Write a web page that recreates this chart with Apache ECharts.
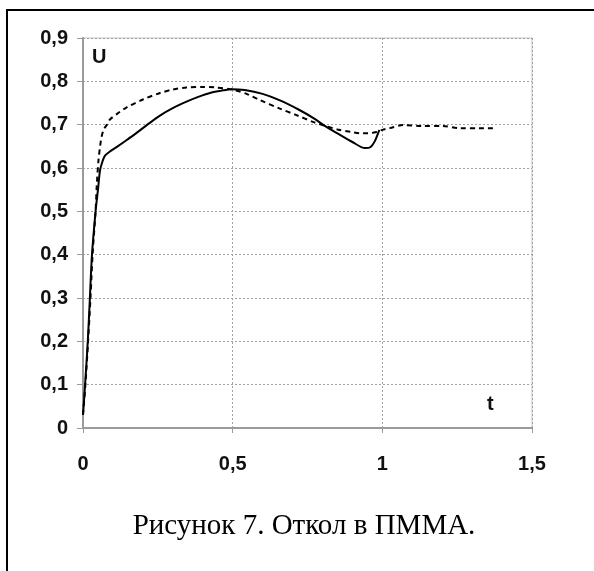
<!DOCTYPE html>
<html>
<head>
<meta charset="utf-8">
<script src="https://cdn.jsdelivr.net/npm/echarts@6/dist/echarts.min.js"></script>
<style>
  html, body { margin: 0; padding: 0; background: #fff; }
  #chart { width: 594px; height: 571px; }
</style>
</head>
<body>
<div id="chart"></div>
<script>
// solid curve (t, U)
const tSolid = [0, 0.007, 0.016, 0.023, 0.030, 0.042, 0.050, 0.057, 0.065, 0.073, 0.09, 0.112, 0.145, 0.179, 0.215, 0.257, 0.30, 0.346, 0.385, 0.424, 0.46, 0.497, 0.54, 0.60, 0.658, 0.72, 0.77, 0.808, 0.85, 0.90, 0.942, 0.96, 0.975, 0.99];
const uSolid = [0.03, 0.1, 0.2, 0.3, 0.4, 0.5, 0.55, 0.595, 0.615, 0.628, 0.638, 0.648, 0.664, 0.681, 0.70, 0.721, 0.738, 0.753, 0.764, 0.773, 0.778, 0.782, 0.780, 0.771, 0.756, 0.735, 0.715, 0.697, 0.68, 0.66, 0.646, 0.648, 0.662, 0.688];

// dashed curve (t, U)
const tDashed = [0, 0.008, 0.017, 0.025, 0.032, 0.042, 0.046, 0.052, 0.057, 0.062, 0.070, 0.079, 0.09, 0.12, 0.146, 0.20, 0.257, 0.30, 0.346, 0.40, 0.44, 0.50, 0.55, 0.59, 0.658, 0.713, 0.77, 0.81, 0.85, 0.898, 0.925, 0.95, 0.98, 1.0, 1.025, 1.07, 1.135, 1.2, 1.26, 1.325, 1.375];
const uDashed = [0.03, 0.1, 0.2, 0.3, 0.4, 0.5, 0.56, 0.62, 0.649, 0.672, 0.69, 0.699, 0.712, 0.728, 0.74, 0.758, 0.773, 0.781, 0.786, 0.787, 0.786, 0.781, 0.77, 0.757, 0.737, 0.722, 0.706, 0.697, 0.689, 0.683, 0.680, 0.680, 0.683, 0.688, 0.692, 0.699, 0.697, 0.697, 0.692, 0.692, 0.692];

const caption = 'Рисунок 7. Откол в ПММА.';

const zip = (xs, ys) => xs.map((x, i) => [x, ys[i]]);
const fmt = v => (v === 0 ? '0' : String(+v.toFixed(1)).replace('.', ','));

const chart = echarts.init(document.getElementById('chart'));
chart.setOption({
    animation: false,
    backgroundColor: '#fff',
    grid: {
        left: 83,
        top: 38,
        right: 62,
        bottom: 143,
        show: true,
        borderColor: '#c8c8c8',
        borderWidth: 1
    },
    xAxis: {
        type: 'value',
        min: 0,
        max: 1.5,
        interval: 0.5,
        axisLine: { onZero: false, lineStyle: { color: '#9a9a9a', width: 2 } },
        axisTick: { show: true, length: 5, lineStyle: { color: '#9a9a9a', width: 1 } },
        axisLabel: {
            margin: 26,
            color: '#111',
            fontFamily: 'Liberation Sans',
            fontWeight: 'bold',
            fontSize: 20,
            formatter: fmt
        },
        splitLine: { lineStyle: { color: '#a0a0a0', type: [2, 2], width: 1 } }
    },
    yAxis: {
        type: 'value',
        min: 0,
        max: 0.9,
        interval: 0.1,
        axisLine: { show: true, onZero: false, lineStyle: { color: '#9a9a9a', width: 2 } },
        axisTick: { show: true, length: 6, lineStyle: { color: '#9a9a9a', width: 1 } },
        axisLabel: {
            margin: 15,
            color: '#111',
            fontFamily: 'Liberation Sans',
            fontWeight: 'bold',
            fontSize: 20,
            formatter: fmt
        },
        splitLine: { lineStyle: { color: '#a0a0a0', type: [2, 2], width: 1 } }
    },
    graphic: [
        {
            type: 'rect',
            shape: { x: 7, y: 10, width: 700, height: 700 },
            style: { fill: null, stroke: '#000', lineWidth: 2 },
            silent: true
        },
        {
            type: 'text',
            left: 92,
            top: 47,
            style: { text: 'U', font: 'bold 20px "Liberation Sans"', fill: '#111' }
        },
        {
            type: 'text',
            left: 487,
            top: 394,
            style: { text: 't', font: 'bold 20px "Liberation Sans"', fill: '#111' }
        },
        {
            type: 'text',
            x: 304,
            y: 526,
            style: {
                text: caption,
                font: '29px "Liberation Serif"',
                fill: '#000',
                align: 'center',
                verticalAlign: 'middle'
            }
        }
    ],
    series: [
        {
            type: 'line',
            data: zip(tSolid, uSolid),
            smooth: 0.3,
            symbol: 'none',
            lineStyle: { color: '#000', width: 2 },
            z: 3
        },
        {
            type: 'line',
            data: zip(tDashed, uDashed),
            smooth: 0.3,
            symbol: 'none',
            lineStyle: { color: '#000', width: 2, type: [5, 4] },
            z: 4
        }
    ]
});
</script>
</body>
</html>
